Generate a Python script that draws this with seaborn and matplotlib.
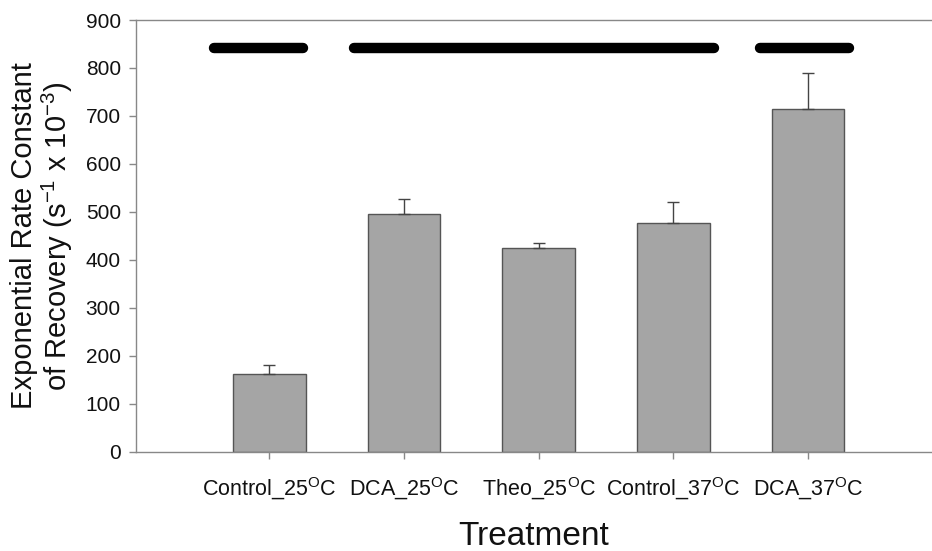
import matplotlib
matplotlib.use("Agg")
import matplotlib.pyplot as plt
import seaborn as sns
import pandas as pd
import numpy as np

# ---- data ----
treatments = ["Control_25$^{\\mathrm{O}}$C", "DCA_25$^{\\mathrm{O}}$C", "Theo_25$^{\\mathrm{O}}$C",
              "Control_37$^{\\mathrm{O}}$C", "DCA_37$^{\\mathrm{O}}$C"]
rate_values = [163, 495, 424, 477, 714]
rate_errors = [17, 32, 11, 44, 75]
# significance-group bars: (start, end) in category units, and level
group_starts = [-0.41, 0.63, 3.64]
group_ends = [0.25, 3.30, 4.30]
group_level = 841
y_ticks = [0, 100, 200, 300, 400, 500, 600, 700, 800, 900]

sns.set_theme(style="white")
plt.rcParams['font.family'] = ['Liberation Sans', 'DejaVu Sans']
plt.rcParams['mathtext.fontset'] = 'custom'
plt.rcParams['mathtext.rm'] = 'Liberation Sans'
plt.rcParams['mathtext.it'] = 'Liberation Sans'
plt.rcParams['text.color'] = '#111111'
plt.rcParams['axes.labelcolor'] = '#111111'
plt.rcParams['xtick.color'] = '#111111'
plt.rcParams['ytick.color'] = '#111111'

df = pd.DataFrame({"Treatment": treatments, "Rate": rate_values})

fig = plt.figure(figsize=(9.32, 5.51), dpi=100)
ax = fig.add_axes([0.146, 0.1802, 0.854, 0.7835])

sns.barplot(data=df, x="Treatment", y="Rate", ax=ax, color="#a5a5a5",
            saturation=1, width=0.54, edgecolor="#555555", linewidth=1.0,
            errorbar=None)

xpos = np.arange(len(treatments))
ax.errorbar(xpos, rate_values, yerr=[np.zeros(len(rate_errors)), rate_errors],
            fmt="none", ecolor="#444444", elinewidth=1.0, capsize=4, capthick=1.0)

for s, e in zip(group_starts, group_ends):
    ax.plot([s, e], [group_level, group_level], color="black", lw=7.5,
            solid_capstyle="round")

ax.set_xlim(-0.99, 4.92)
ax.set_ylim(0, 900)
ax.set_yticks(y_ticks)

for side in ["left", "bottom", "top"]:
    ax.spines[side].set_color("#888888")
    ax.spines[side].set_linewidth(1.0)
ax.spines["right"].set_visible(False)

ax.tick_params(axis="y", direction="out", length=5, width=1, color="#888888",
               labelcolor="#111111", labelsize=15, pad=6, left=True)
ax.tick_params(axis="x", direction="out", length=5, width=1, color="#888888",
               labelcolor="#111111", labelsize=15.5, pad=12, bottom=True)

ax.set_xlabel("Treatment", fontsize=24, labelpad=14)
ax.set_ylabel("Exponential Rate Constant\nof Recovery (s$^{-1}$ x 10$^{-3}$)",
              fontsize=21, labelpad=8, linespacing=1.05)

fig.savefig("out.png", dpi=100)
